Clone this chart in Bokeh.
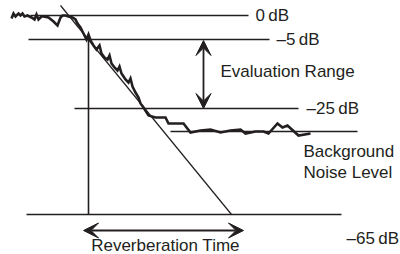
from bokeh.plotting import figure
from bokeh.models import Range1d, Arrow, VeeHead
from bokeh.core.properties import value
from bokeh.embed import file_html
from bokeh.resources import INLINE

# ---- data (schematic units: x = time, y = depth below top, in plot units) ----
curve_t = [11, 13, 15, 18, 20, 22, 24, 27, 31, 34, 36, 38, 41, 43, 48, 53, 57, 60, 62, 65,
           68, 72, 75, 77, 80, 82, 84, 86, 88, 90, 93, 96, 99, 101, 104, 107, 109, 111, 114,
           117, 119, 121, 125, 128, 130, 132, 135, 138, 140, 143, 148, 155, 165, 168, 183,
           190, 200, 210, 220, 230, 240, 245, 255, 263, 268, 277, 282, 287, 298, 310]
curve_level = [18, 13, 16, 13, 15, 13, 16, 15, 17, 19, 14, 19, 16, 16, 17, 21, 25, 17, 15, 15,
               16, 17, 19, 23, 27, 31, 35, 39, 34, 40, 45, 49, 45, 53, 57, 59, 55, 63, 67,
               70, 66, 73, 79, 82, 78, 86, 92, 97, 103, 107, 115, 117, 117, 123, 123,
               132, 130, 129, 132, 130, 129, 133, 131, 131, 133, 123, 127, 125, 135, 133]

decay_t = [60, 231]
decay_level = [5, 214]

level_names = ["0\u2009dB", "\u20135\u2009dB", "\u201325\u2009dB", "noise", "\u201365\u2009dB"]
level_y = [15, 39, 108, 131, 214]
level_x0 = [30, 28, 74, 170, 26]
level_x1 = [248, 269, 298, 357, 341]

start_t = 88          # vertical marker (start of evaluation)
eval_t = 203          # evaluation range arrow position
rt_start, rt_end, rt_y = 83, 243, 230   # reverberation time arrow

INK = "#231f20"
FONT = value("Liberation Sans")

p = figure(width=400, height=254, output_backend="svg", toolbar_location=None,
           x_range=Range1d(0, 400), y_range=Range1d(254, 0),
           min_border=0, x_axis_location=None, y_axis_location=None)
p.grid.visible = False
p.outline_line_color = None
p.background_fill_color = "white"
p.border_fill_color = "white"

# level lines
p.segment(x0=level_x0, y0=level_y, x1=level_x1, y1=level_y, line_color=INK, line_width=1.6)
# vertical start marker
p.segment(x0=[start_t], y0=[level_y[1]], x1=[start_t], y1=[level_y[4]], line_color=INK, line_width=1.6)
# ideal decay line
p.line(decay_t, decay_level, line_color=INK, line_width=1.2)
# measured decay curve
p.line(curve_t, curve_level, line_color=INK, line_width=2.6, line_join="miter")

# arrows
def head():
    return VeeHead(size=15, fill_color=INK, line_color=INK, line_width=1)

p.add_layout(Arrow(start=head(), end=head(), x_start=eval_t, y_start=level_y[1] + 1,
                   x_end=eval_t, y_end=level_y[2], line_color=INK, line_width=1.8))
p.add_layout(Arrow(start=head(), end=head(), x_start=rt_start, y_start=rt_y,
                   x_end=rt_end, y_end=rt_y, line_color=INK, line_width=1.8))

# labels
lab_x = [255, 276, 306, 346]
lab_y = [15, 39, 108, 238]
lab_txt = [level_names[0], level_names[1], level_names[2], level_names[4]]
p.text(x=lab_x, y=lab_y, text=lab_txt, text_font=FONT, text_font_size="17px",
       text_color=INK, text_baseline="middle", text_align="left")
p.text(x=[220], y=[71], text=["Evaluation Range"], text_font=FONT, text_font_size="17px",
       text_color=INK, text_baseline="middle", text_align="left")
p.text(x=[303, 303], y=[151, 172], text=["Background", "Noise Level"], text_font=FONT,
       text_font_size="17px", text_color=INK, text_baseline="middle", text_align="left")
p.text(x=[165], y=[245], text=["Reverberation Time"], text_font=FONT, text_font_size="17px",
       text_color=INK, text_baseline="middle", text_align="center")

open("out.html", "w").write(file_html(p, INLINE))
